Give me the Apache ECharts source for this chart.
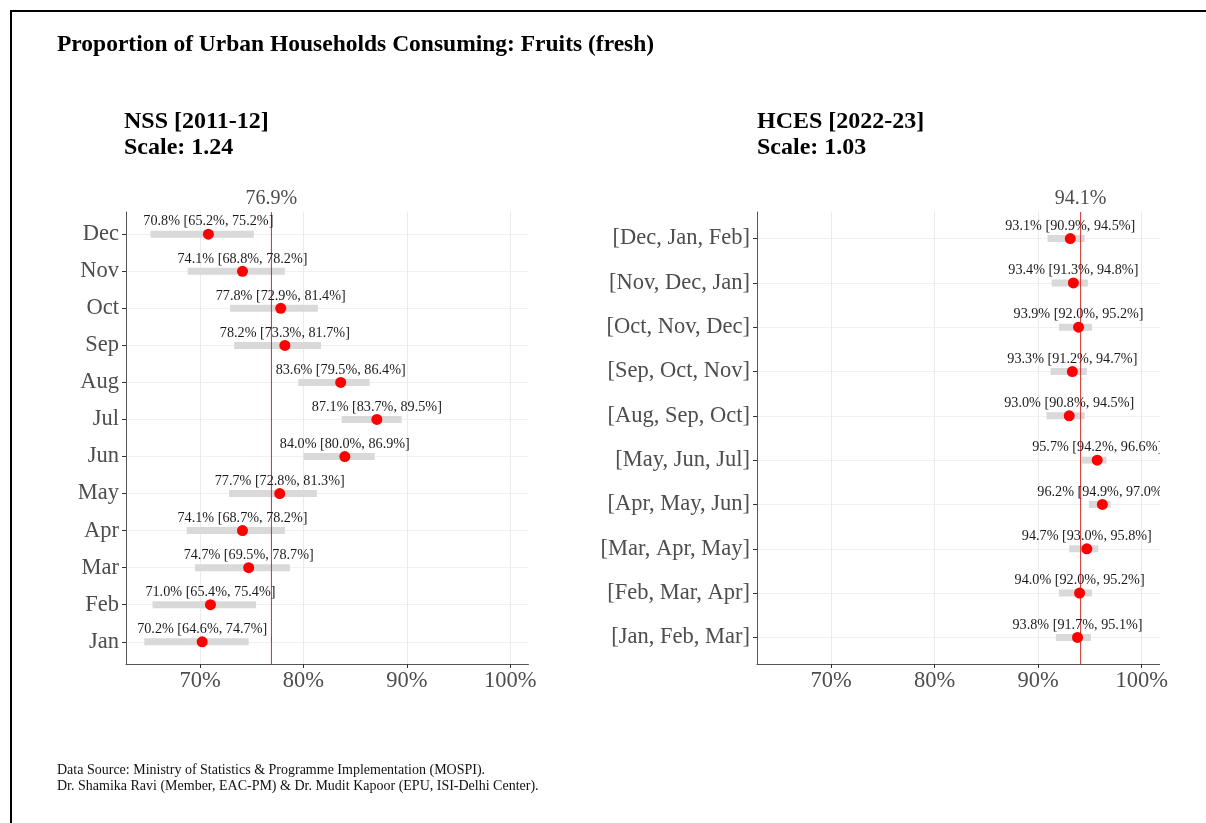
<!DOCTYPE html>
<html>
<head>
<meta charset="utf-8">
<script src="https://cdn.jsdelivr.net/npm/echarts@6/dist/echarts.min.js"></script>
<style>
  html, body { margin: 0; padding: 0; background: #ffffff; }
  #chart { width: 1206px; height: 823px; }
</style>
</head>
<body>
<div id="chart"></div>
<script>
// NSS 2011-12: monthly estimates with 95% intervals (bottom row first)
const nssMonths = ['Jan', 'Feb', 'Mar', 'Apr', 'May', 'Jun', 'Jul', 'Aug', 'Sep', 'Oct', 'Nov', 'Dec'];
const nssEstimate = [70.2, 71.0, 74.7, 74.1, 77.7, 84.0, 87.1, 83.6, 78.2, 77.8, 74.1, 70.8];
const nssLower    = [64.6, 65.4, 69.5, 68.7, 72.8, 80.0, 83.7, 79.5, 73.3, 72.9, 68.8, 65.2];
const nssUpper    = [74.7, 75.4, 78.7, 78.2, 81.3, 86.9, 89.5, 86.4, 81.7, 81.4, 78.2, 75.2];
const nssMean = 76.9;

// HCES 2022-23: three-month windows (bottom row first)
const hcesWindows = ['[Jan, Feb, Mar]', '[Feb, Mar, Apr]', '[Mar, Apr, May]', '[Apr, May, Jun]', '[May, Jun, Jul]',
                     '[Aug, Sep, Oct]', '[Sep, Oct, Nov]', '[Oct, Nov, Dec]', '[Nov, Dec, Jan]', '[Dec, Jan, Feb]'];
const hcesEstimate = [93.8, 94.0, 94.7, 96.2, 95.7, 93.0, 93.3, 93.9, 93.4, 93.1];
const hcesLower    = [91.7, 92.0, 93.0, 94.9, 94.2, 90.8, 91.2, 92.0, 91.3, 90.9];
const hcesUpper    = [95.1, 95.2, 95.8, 97.0, 96.6, 94.5, 94.7, 95.2, 94.8, 94.5];
const hcesMean = 94.1;

// shared percentage axis
const pctTicks = [70, 80, 90, 100];
const pctMin = 62.83;
const pctMax = 101.77;

const SERIF = "'Liberation Serif', 'DejaVu Serif', serif";
const pct = v => v.toFixed(1) + '%';

const panels = [
  { cats: nssMonths, est: nssEstimate, lo: nssLower, hi: nssUpper, mean: nssMean,
    grid: { left: 126, top: 212, width: 402.5, height: 452 } },
  { cats: hcesWindows, est: hcesEstimate, lo: hcesLower, hi: hcesUpper, mean: hcesMean,
    grid: { left: 757, top: 212, width: 403, height: 452 } }
];

const grids = [], xAxes = [], yAxes = [], series = [];

panels.forEach((p, i) => {
  const idx = p.cats.map((_, k) => k);
  const yMin = -0.6, yMax = p.cats.length - 1 + 0.6;
  grids.push(Object.assign({ containLabel: false }, p.grid));

  // bottom percentage axis
  xAxes.push({
    type: 'value', gridIndex: i, position: 'bottom', min: pctMin, max: pctMax,
    axisLine: { show: true, onZero: false, lineStyle: { color: '#555', width: 1 } },
    axisTick: { show: true, length: 4, customValues: pctTicks, lineStyle: { color: '#333' } },
    axisLabel: { customValues: pctTicks, formatter: v => v + '%', fontFamily: SERIF, fontSize: 22.5, color: '#4d4d4d', margin: 6 },
    splitLine: { show: true, lineStyle: { color: '#ebebeb', width: 1 } }
  });
  // top axis marking the overall mean
  xAxes.push({
    type: 'value', gridIndex: i, position: 'top', min: pctMin, max: pctMax,
    axisLine: { show: false },
    axisTick: { show: true, length: 5, customValues: [p.mean], lineStyle: { color: '#333' } },
    axisLabel: { customValues: [p.mean], formatter: v => pct(v), fontFamily: SERIF, fontSize: 20, color: '#4d4d4d', margin: 3 },
    splitLine: { show: false }
  });
  yAxes.push({
    type: 'value', gridIndex: i, min: yMin, max: yMax,
    axisLine: { show: true, onZero: false, lineStyle: { color: '#555', width: 1 } },
    axisTick: { show: true, length: 4, customValues: idx, lineStyle: { color: '#333' } },
    axisLabel: { customValues: idx, formatter: v => p.cats[Math.round(v)], fontFamily: SERIF, fontSize: 22.5, color: '#4d4d4d', margin: 7 },
    splitLine: { show: true, lineStyle: { color: '#f0f0f0', width: 1 } }
  });

  // interval bars
  series.push({
    type: 'custom', xAxisIndex: 2 * i, yAxisIndex: i, z: 2, silent: true,
    data: idx.map(k => [p.lo[k], p.hi[k], k]),
    encode: { x: [0, 1], y: 2 },
    renderItem: (params, api) => {
      const a = api.coord([api.value(0), api.value(2)]);
      const b = api.coord([api.value(1), api.value(2)]);
      const h = 7;
      return { type: 'rect', shape: { x: a[0], y: a[1] - h / 2, width: b[0] - a[0], height: h }, style: { fill: '#d9d9d9' } };
    }
  });

  // overall mean as a vertical reference line
  series.push({
    type: 'line', xAxisIndex: 2 * i, yAxisIndex: i, z: 3, silent: true,
    symbol: 'none', showSymbol: false,
    itemStyle: { color: '#d03030' },
    lineStyle: { color: '#d03030', width: 1 },
    data: [[p.mean, yMin], [p.mean, yMax]]
  });

  // point estimates with their labels
  series.push({
    type: 'scatter', xAxisIndex: 2 * i, yAxisIndex: i, z: 10, silent: true,
    symbol: 'circle', symbolSize: 11,
    itemStyle: { color: '#ff0000', opacity: 1 },
    data: idx.map(k => [p.est[k], k]),
    label: {
      show: true, position: 'top', distance: 0,
      formatter: prm => `${pct(p.est[prm.dataIndex])} [${pct(p.lo[prm.dataIndex])}, ${pct(p.hi[prm.dataIndex])}]`,
      fontFamily: SERIF, fontSize: 14.2, color: '#1a1a1a'
    }
  });
});

const chart = echarts.init(document.getElementById('chart'), null, { renderer: 'canvas' });
chart.setOption({
  animation: false,
  backgroundColor: '#ffffff',
  title: [
    { text: 'Proportion of Urban Households Consuming: Fruits (fresh)', left: 57, top: 33, padding: 0,
      textStyle: { fontFamily: SERIF, fontWeight: 'bold', fontSize: 23.5, color: '#000' } },
    { text: 'NSS [2011-12]\nScale: 1.24', left: 124, top: 109, padding: 0,
      textStyle: { fontFamily: SERIF, fontWeight: 'bold', fontSize: 24, lineHeight: 26, color: '#000' } },
    { text: 'HCES [2022-23]\nScale: 1.03', left: 757, top: 109, padding: 0,
      textStyle: { fontFamily: SERIF, fontWeight: 'bold', fontSize: 24, lineHeight: 26, color: '#000' } },
    { text: 'Data Source: Ministry of Statistics & Programme Implementation (MOSPI).\nDr. Shamika Ravi (Member, EAC-PM) & Dr. Mudit Kapoor (EPU, ISI-Delhi Center).',
      left: 57, top: 763, padding: 0,
      textStyle: { fontFamily: SERIF, fontWeight: 'normal', fontSize: 14, lineHeight: 15.5, color: '#111' } }
  ],
  grid: grids,
  xAxis: xAxes,
  yAxis: yAxes,
  series: series,
  graphic: [
    // labels running past the right panel edge are cut at the panel boundary
    { type: 'rect', left: 757 + 403, top: 190, shape: { width: 50, height: 480 }, style: { fill: '#ffffff' }, z: 100 },
    // frame lines
    { type: 'line', shape: { x1: 10, y1: 11, x2: 1206, y2: 11 }, style: { stroke: '#000', lineWidth: 2 }, z: 100 },
    { type: 'line', shape: { x1: 11, y1: 10, x2: 11, y2: 823 }, style: { stroke: '#000', lineWidth: 2 }, z: 100 }
  ]
});
</script>
</body>
</html>
